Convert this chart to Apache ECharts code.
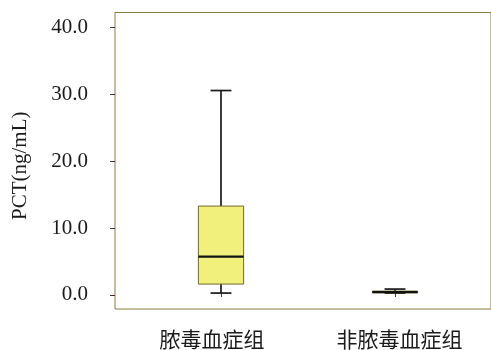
<!DOCTYPE html>
<html>
<head>
<meta charset="utf-8">
<style>
  html, body { margin: 0; padding: 0; background: #ffffff; }
  #chart { width: 491px; height: 350px; }
</style>
<script src="https://cdn.jsdelivr.net/npm/echarts@6/dist/echarts.min.js"></script>
</head>
<body>
<div id="chart"></div>
<script>
// Groups and their PCT box statistics: [min, Q1, median, Q3, max]
const categories = ['脓毒血症组', '非脓毒血症组'];
const whiskerLow  = [0.0, 0.0];
const quartile1   = [1.35, 0.05];
const medians     = [5.5, 0.15];
const quartile3   = [13.1, 0.3];
const whiskerHigh = [30.5, 0.6];
const yTicks = [0, 10, 20, 30, 40];

const frameColor = '#8a7d3c';
const serif = '"Liberation Serif", "DejaVu Serif", serif';
const cjk = '"Noto Sans CJK SC", sans-serif';
// small horizontal nudges of the group names under their ticks
const labelPadding = [[0, 18, 0, 0], [0, 0, 0, 9]];

const boxData = categories.map((c, i) => [
  i, whiskerLow[i], quartile1[i], medians[i], quartile3[i], whiskerHigh[i]
]);

function renderBox(params, api) {
  const x = api.value(0);
  const pMin = api.coord([x, api.value(1)]);
  const pQ1 = api.coord([x, api.value(2)]);
  const pMed = api.coord([x, api.value(3)]);
  const pQ3 = api.coord([x, api.value(4)]);
  const pMax = api.coord([x, api.value(5)]);
  const band = api.size([1, 0])[0];
  const half = band * 0.13;
  const cap = band * 0.06;
  const cx = pMed[0];
  const line = { stroke: '#1a1a1a', lineWidth: 1.7 };
  return {
    type: 'group',
    children: [
      { type: 'line', shape: { x1: cx, y1: pMax[1], x2: cx, y2: pQ3[1] }, style: line },
      { type: 'line', shape: { x1: cx, y1: pQ1[1], x2: cx, y2: pMin[1] }, style: line },
      { type: 'line', shape: { x1: cx - cap, y1: pMax[1], x2: cx + cap, y2: pMax[1] }, style: line },
      { type: 'line', shape: { x1: cx - cap, y1: pMin[1], x2: cx + cap, y2: pMin[1] }, style: line },
      {
        type: 'rect',
        shape: { x: cx - half, y: pQ3[1], width: half * 2, height: Math.max(pQ1[1] - pQ3[1], 1) },
        style: { fill: '#f2f07c', stroke: '#6f6a2a', lineWidth: 1 }
      },
      { type: 'line', shape: { x1: cx - half, y1: pMed[1], x2: cx + half, y2: pMed[1] },
        style: { stroke: '#111111', lineWidth: 2.2 } }
    ]
  };
}

const chart = echarts.init(document.getElementById('chart'), null, { renderer: 'canvas' });
chart.setOption({
  backgroundColor: '#ffffff',
  animation: false,
  grid: [
    { left: 115, right: -5, top: 12.5, bottom: 41, show: true, borderColor: frameColor, borderWidth: 1 },
    { left: 134, right: 9, top: 12.5, bottom: 41 }
  ],
  xAxis: [
    { gridIndex: 0, type: 'category', data: [''], show: false },
    {
      gridIndex: 1, type: 'category',
      data: categories.map((c, i) => ({ value: c, textStyle: { padding: labelPadding[i] } })),
      axisLine: { show: false },
      axisTick: { show: true, alignWithLabel: true, length: 4, lineStyle: { color: '#444' } },
      axisLabel: { margin: 22, fontFamily: cjk, fontSize: 21, color: '#1a1a1a' }
    }
  ],
  yAxis: [
    {
      gridIndex: 0, type: 'value', min: -2.1, max: 42.25,
      name: 'PCT(ng/mL)', nameLocation: 'middle', nameGap: 84, nameRotate: 90,
      nameTextStyle: { fontFamily: serif, fontSize: 21, color: '#1a1a1a', padding: [0, 10, 0, 0] },
      axisLine: { show: false },
      splitLine: { show: false },
      axisTick: { show: true, length: 5, customValues: yTicks, lineStyle: { color: '#4a2a2a' } },
      axisLabel: {
        customValues: yTicks, margin: 27, fontFamily: serif, fontSize: 21, color: '#1a1a1a',
        formatter: v => v.toFixed(1)
      }
    },
    { gridIndex: 1, type: 'value', min: -2.1, max: 42.25, show: false }
  ],
  series: [{
    type: 'custom',
    xAxisIndex: 1,
    yAxisIndex: 1,
    renderItem: renderBox,
    encode: { x: 0, y: [1, 2, 3, 4, 5] },
    data: boxData
  }]
});
</script>
</body>
</html>
